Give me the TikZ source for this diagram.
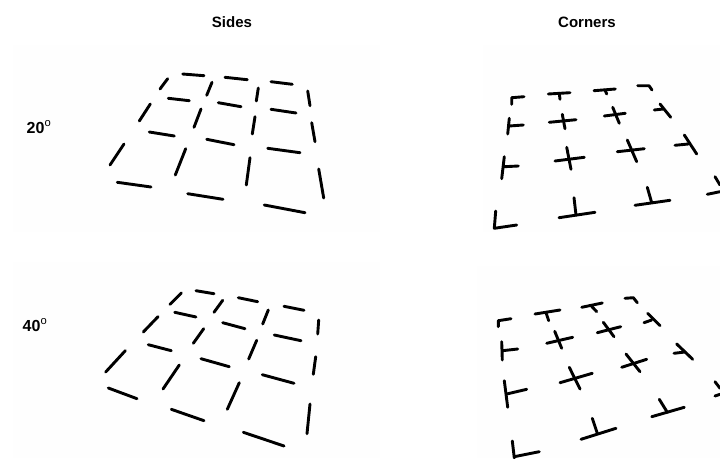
\documentclass[tikz,border=0pt]{standalone}
\usepackage{fontspec}
\setmainfont{Liberation Sans}
\begin{document}
\begin{tikzpicture}[x=1pt,y=-1pt,
  seg/.style={line width=2.9pt,line cap=round,line join=round,black},
  title/.style={font=\fontsize{15}{18}\selectfont\bfseries,inner sep=0pt},
  anglab/.style={font=\fontsize{16}{18}\selectfont\bfseries,inner sep=0pt}]
\useasboundingbox (0,0) rectangle (720,458);
\fill[white] (0,0) rectangle (720,458);
% faint panel backgrounds
\fill[black!0.4] (13,45) rectangle (380,232);
\fill[black!0.4] (13,262) rectangle (380,458);
\fill[black!0.4] (483,45) rectangle (720,232);
\fill[black!0.4] (477,266) rectangle (720,458);
% titles
\node[title] (tsides) at (232,22) {Sides};
\node[title] (tcorners) at (587,22) {Corners};
\node[anglab] (a20) at (39,127) {20\textsuperscript{\mdseries o}};
\node[anglab] (a40) at (35,325) {40\textsuperscript{\mdseries o}};
% Sides 20
\foreach \a/\b/\c/\d in {
 182.7/74/204/75.7, 225/77.3/247.3/79.7, 271/81.7/292.3/84.3,
 168.3/98.3/189.3/100.7, 218.3/102.7/241/106.7, 271/109.3/296/113,
 149.3/132/174.3/136, 206.7/139.3/234/144.7, 267.7/148.3/300/152.7,
 117.3/182.3/151/187, 187.7/193.7/223/199.3, 264.3/205/305/212.7,
 167.7/78.7/160/89, 212/82.3/206.7/95.3, 258.3/88/256.3/101, 307.7/91/310/105.7,
 150.3/104/139.3/121, 201/109/194/127.3, 255/116.7/252.3/134, 311.7/122.7/315/141.7,
 124/144/110/165, 185.7/148.7/175.3/175, 250/157.7/246.3/185, 318.7/169/323.7/198}
 \draw[seg] (\a,\b) -- (\c,\d);
% Sides 40
\foreach \a/\b/\c/\d in {
 196/290.7/214/293.7, 238.3/297.7/257.7/301.7, 284/306.3/304/310.3,
 174.7/312.3/196/317, 222.7/322.7/245/328.7, 274.3/335/301/340.7,
 148.3/344.7/171.3/350.7, 201/358.7/229.3/366.7, 262.3/374.7/294/383.3,
 108.3/388/137/398.7, 171.3/409.3/204/420.7, 243.3/432.3/284/446,
 181.3/293/170/304.3, 222.7/300.3/214/312.3, 268.3/310/262.7/324, 318.7/320/317.7/334,
 158/316.7/143.3/332, 203.7/328.7/193.3/343.3, 256.7/340.3/248.7/359, 315.7/356.7/313.3/374.3,
 125.3/350.7/105.7/372, 179.3/365/163/389, 239.3/382.7/227.3/409.3, 310/404/307/433.7}
 \draw[seg] (\a,\b) -- (\c,\d);
% Corners 20
\draw[seg] (524,96.7) -- (511.7,97.7) -- (511.7,104.3);
\draw[seg] (637.7,85.7) -- (649,85.7) -- (652,90);
\draw[seg] (495.7,211) -- (494.3,228.3) -- (516.7,225);
\foreach \a/\b/\c/\d in {
 548.3/94/570/92.7, 559.3/93.3/560/99.3,
 594/90.7/615.3/89, 605/90/606.7/94,
 509.3/118.3/507.7/134, 509.3/126/523.3/125,
 549.3/122.3/576/119.7, 562.3/114.3/565/128.7,
 604.3/116/625.3/113.3, 612.7/107.3/619.3/123.3,
 654.3/110/663.3/109, 660/104/670.7/117.3,
 504.3/156.7/501.7/178.7, 504.3/166.7/518.3/166,
 555/161/584.3/157.3, 566.7/147.3/571/169.3,
 617.3/151.7/644.3/148.7, 627.3/140/636.7/161.7,
 675/145.3/688.3/144, 684.3/135/696.7/154,
 559/217.7/595/212.3, 574/197.7/576/215,
 635/205.3/670/200.3, 647.3/187.3/651.7/202.7,
 707.3/194.3/720/191.7, 715/176.7/720/185}
 \draw[seg] (\a,\b) -- (\c,\d);
% Corners 40
\draw[seg] (511,318.7) -- (498.3,320.7) -- (498.3,326.7);
\draw[seg] (625,298.3) -- (633.3,297.7) -- (637.3,302.7);
\foreach \a/\b/\c/\d in {
 535/314/560/310, 546/312.7/548.7/320.7,
 581.7/307.3/602.3/303, 590.7/305.3/596.7/311.7,
 501.7/341.7/502.3/360, 502.3/350.7/517.7/349,
 546.7/343.3/572.7/337.3, 554.7/331.3/561.7/348.3,
 597.3/332.7/620.7/326.7, 603.3/322.3/614/336.7,
 644/322.7/651.7/320, 647.7/313.3/660/325.7,
 504.3/380.7/507.7/407.3, 506.7/394/526.7/389.3,
 560/382.7/592.3/373.3, 569.3/367.3/580/389,
 621.7/367.3/646.7/359.3, 626/354/640/371.7,
 674/353.3/685/352, 676.7/344/692.7/359.3,
 512.3/441/514.3/458, 514.3/456.7/539.3/451.7,
 581/439.3/616/428.3, 592.3/418.3/597.3/433.3,
 651.7/416.7/684.3/407.3, 659.3/399.3/667.3/412.3,
 715/396/720/394.3, 715/381.7/720/388.3}
 \draw[seg] (\a,\b) -- (\c,\d);
\end{tikzpicture}
\end{document}
